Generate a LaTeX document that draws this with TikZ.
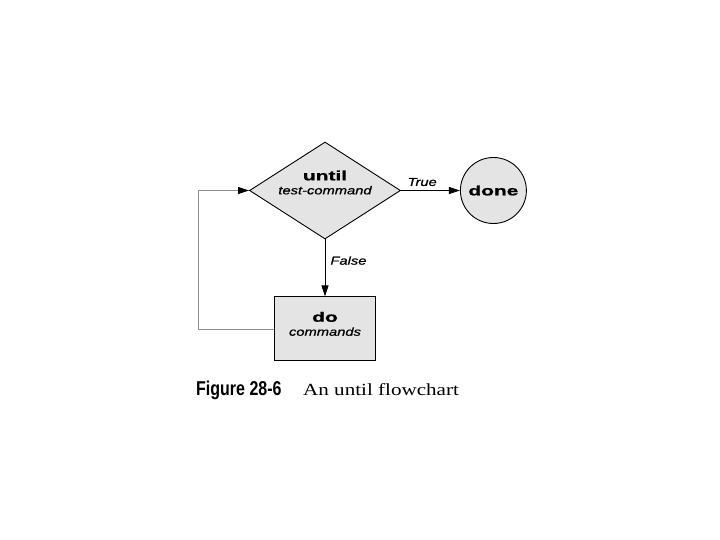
\documentclass[tikz,border=0pt]{standalone}
\usepackage{fontspec}
\setmainfont{Liberation Serif}
\newfontfamily\widebold[FakeStretch=1.55, FakeBold=1.2]{Liberation Sans}
\newfontfamily\wideital[FakeStretch=1.28, FakeBold=0.8]{Liberation Sans}
\newfontfamily\capsans[FakeStretch=0.8]{Liberation Sans}
\newfontfamily\capserif[FakeStretch=1.24]{Liberation Serif}
\usetikzlibrary{shapes.geometric, arrows.meta, positioning}
\definecolor{boxgray}{RGB}{228, 228, 228}
\definecolor{loopgray}{RGB}{140, 140, 140}
\tikzset{
    decision/.style={diamond, draw=black, fill=boxgray, line width=0.9pt, minimum width=151pt, minimum height=97pt, inner sep=0pt},
    process/.style={rectangle, draw=black, fill=boxgray, line width=0.9pt, minimum width=101pt, minimum height=64pt, inner sep=0pt},
    terminal/.style={circle, draw=black, fill=boxgray, line width=0.9pt, minimum size=66pt, inner sep=0pt},
    boxtext/.style={align=center, inner sep=0pt, font=\fontsize{13}{15}\selectfont},
    edgelabel/.style={font=\wideital\itshape\fontsize{11.5}{13}\selectfont, inner sep=0pt},
    arrow/.style={-{Triangle[length=11pt, width=7pt]}, black, line width=0.9pt},
    loopline/.style={-{Triangle[length=11pt, width=7pt, color=black]}, loopgray, line width=0.8pt}
}
\begin{document}
\begin{tikzpicture}[x=1pt, y=-1pt, node distance=57pt and 59pt]
    \useasboundingbox (0,0) rectangle (720,540);
    \node (until) [decision] at (325,190.5) {};
    \node (untiltext) [boxtext] at ([yshift=8pt]until.center) {{\widebold\bfseries\fontsize{13.5}{13.5}\selectfont until}\\[-1pt] {\wideital\itshape\fontsize{11.5}{13}\selectfont test-command}};
    \node (done) [terminal, right=of until] {\widebold\bfseries\fontsize{13.5}{15}\selectfont done};
    \node (do) [process, below=of until] {};
    \node (dotext) [boxtext] at ([yshift=5pt]do.center) {{\widebold\bfseries\fontsize{13.5}{13.5}\selectfont do}\\[-1pt] {\wideital\itshape\fontsize{11.5}{13}\selectfont commands}};

    \draw [arrow] (until) -- node[edgelabel, above=4pt, pos=0.36] {True} (done);
    \draw [arrow] (until) -- node[edgelabel, right=5pt, pos=0.37] {False} (do);
    \draw [loopline] (do.west) -- ++(-76,0) |- (until.west);

    \node (capnum) [anchor=base west, inner sep=0pt] at (196,395) {\capsans\bfseries\fontsize{20}{22}\selectfont Figure 28-6};
    \node (captext) [anchor=base west, inner sep=0pt] at (303,395) {\capserif\fontsize{17}{19}\selectfont An until flowchart};
\end{tikzpicture}
\end{document}
